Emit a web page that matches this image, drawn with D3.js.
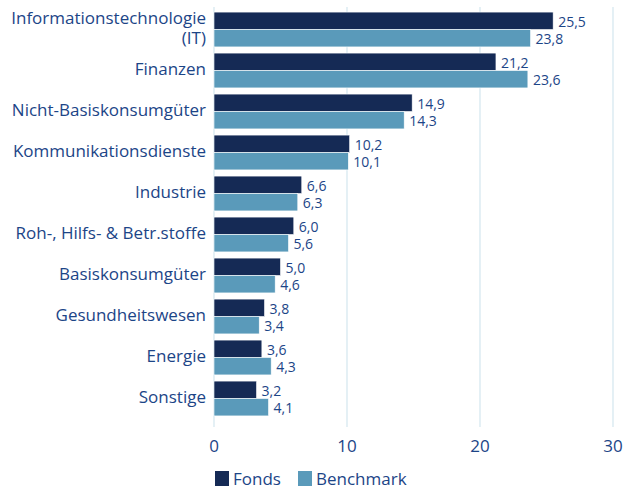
<!DOCTYPE html>
<html>
<head>
<meta charset="utf-8">
<script src="https://cdn.jsdelivr.net/npm/d3@7"></script>
<style>
  body { margin: 0; background: #fff; }
  text { font-family: "Open Sans", sans-serif; }
</style>
</head>
<body>
<div id="chart"></div>
<script>
// Sector weights (%), Fonds vs. Benchmark
const categories = [
	["Informationstechnologie", "(IT)"],
	["Finanzen"],
	["Nicht-Basiskonsumgüter"],
	["Kommunikationsdienste"],
	["Industrie"],
	["Roh-, Hilfs- & Betr.stoffe"],
	["Basiskonsumgüter"],
	["Gesundheitswesen"],
	["Energie"],
	["Sonstige"],
];
const fonds = [25.5, 21.2, 14.9, 10.2, 6.6, 6.0, 5.0, 3.8, 3.6, 3.2];
const benchmark = [23.8, 23.6, 14.3, 10.1, 6.3, 5.6, 4.6, 3.4, 4.3, 4.1];
const seriesNames = ["Fonds", "Benchmark"];
const xTicks = [0, 10, 20, 30];

const width = 625;
const height = 491;
const margin = { top: 9, right: 12, bottom: 72, left: 214 };
const colors = { Fonds: "#152a55", Benchmark: "#5a9aba" };
const textColor = "#1c4587";
const gridColor = "#d3e6ef";

const svg = d3
	.select("#chart")
	.append("svg")
	.attr("width", width)
	.attr("height", height);

const x = d3
	.scaleLinear()
	.domain([0, 30])
	.range([margin.left, margin.left + 399]);

const keys = categories.map((d) => d.join(" "));
const y = d3
	.scaleBand()
	.domain(keys)
	.range([margin.top, height - margin.bottom])
	.paddingInner(0.15)
	.paddingOuter(0.075);

const ySub = d3.scaleBand().domain(seriesNames).range([0, y.bandwidth()]);

// Vertical gridlines (the 0 line doubles as the axis)
svg.append("g")
	.selectAll("line")
	.data(xTicks)
	.join("line")
	.attr("x1", (d) => x(d))
	.attr("x2", (d) => x(d))
	.attr("y1", 7)
	.attr("y2", 427)
	.attr("stroke", gridColor)
	.attr("stroke-width", 1.2);

// x tick labels
svg.append("g")
	.selectAll("text")
	.data(xTicks)
	.join("text")
	.attr("x", (d) => x(d))
	.attr("y", 446)
	.attr("dy", "0.35em")
	.attr("text-anchor", "middle")
	.attr("fill", textColor)
	.style("font-size", "17px")
	.text((d) => d);

// Bars
const rows = categories.map((c, i) => ({
	key: keys[i],
	lines: c,
	values: [
		{ name: "Fonds", value: fonds[i] },
		{ name: "Benchmark", value: benchmark[i] },
	],
}));

const groups = svg
	.append("g")
	.selectAll("g")
	.data(rows)
	.join("g")
	.attr("transform", (d) => `translate(0,${y(d.key)})`);

groups
	.selectAll("rect")
	.data((d) => d.values)
	.join("rect")
	.attr("x", x(0))
	.attr("y", (d) => ySub(d.name))
	.attr("width", (d) => x(d.value) - x(0))
	.attr("height", ySub.bandwidth())
	.attr("fill", (d) => colors[d.name])
	.attr("stroke", "#ffffff")
	.attr("stroke-width", 0.6);

// Value labels, German decimal comma
const fmt = (v) => d3.format(".1f")(v).replace(".", ",");
groups
	.selectAll("text.val")
	.data((d) => d.values)
	.join("text")
	.attr("class", "val")
	.attr("x", (d) => x(d.value) + 5)
	.attr("y", (d) => ySub(d.name) + ySub.bandwidth() / 2 + 1)
	.attr("dy", "0.35em")
	.attr("fill", textColor)
	.style("font-size", "14px")
	.text((d) => fmt(d.value));

// Category labels (right-aligned, may wrap onto two lines)
groups
	.append("text")
	.attr("text-anchor", "end")
	.attr("fill", textColor)
	.style("font-size", "17px")
	.each(function (d) {
		const t = d3.select(this);
		const lineH = 20;
		const y0 = y.bandwidth() / 2 - ((d.lines.length - 1) * lineH) / 2;
		d.lines.forEach((line, i) => {
			t.append("tspan")
				.attr("x", 206)
				.attr("y", y0 + i * lineH - 1)
				.attr("dy", "0.35em")
				.text(line);
		});
	});

// Legend
const legend = svg
	.append("g")
	.selectAll("g")
	.data(seriesNames)
	.join("g")
	.attr("transform", (d, i) => `translate(${[215, 298][i]},471)`);

legend
	.append("rect")
	.attr("width", 14)
	.attr("height", 15)
	.attr("fill", (d) => colors[d]);

legend
	.append("text")
	.attr("x", 18)
	.attr("y", 8)
	.attr("dy", "0.35em")
	.attr("fill", textColor)
	.style("font-size", "17px")
	.text((d) => d);
</script>
</body>
</html>
